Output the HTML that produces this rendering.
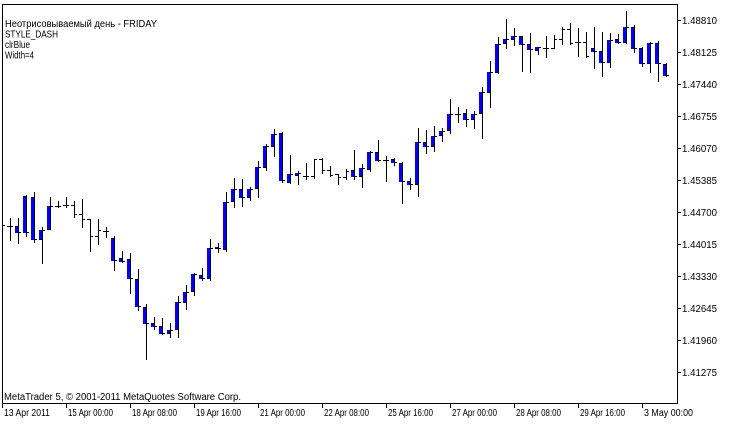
<!DOCTYPE html>
<html><head><meta charset="utf-8"><style>
html,body{margin:0;padding:0;background:#fff;}
svg{display:block;}
text{font-family:"Liberation Sans","DejaVu Sans",sans-serif;font-size:10px;fill:#000;}
</style></head><body>
<svg width="730" height="425" viewBox="0 0 730 425" xmlns="http://www.w3.org/2000/svg">
<rect x="0" y="0" width="730" height="425" fill="#fff"/>
<g shape-rendering="crispEdges">
<path fill="none" stroke="#0000ff" stroke-width="3" d="M0.5 210V226M16.5 226V233M24.5 196V233M32.5 197V240M40.5 230V240M48.5 206V230M104.5 231V232M112.5 238V261M120.5 258V262M128.5 259V279M136.5 279V307M144.5 307V324M152.5 323V327M160.5 326V334M168.5 330V334M176.5 302V330M184.5 292V303M192.5 274V292M200.5 275V279M208.5 248V279M216.5 247V249M224.5 202V250M232.5 189V202M240.5 189V198M248.5 189V198M256.5 167V189M264.5 146V168M272.5 134V147M280.5 133V181M288.5 174V183M296.5 173V176M352.5 170V177M360.5 168V177M368.5 152V170M376.5 152V161M392.5 159V163M400.5 163V182M408.5 181V185M416.5 142V185M424.5 142V147M432.5 136V147M440.5 131V136M448.5 114V131M464.5 113V120M472.5 114V120M480.5 92V114M488.5 72V93M496.5 44V73M504.5 39V44M512.5 36V40M520.5 36V45M528.5 44V50M536.5 47V51M592.5 48V52M600.5 51V63M608.5 40V63M616.5 39V43M624.5 27V43M632.5 27V49M640.5 48V64M648.5 43V64M656.5 43V64M664.5 64V76"/>
<path fill="none" stroke="#000" stroke-width="1" d="M2.5 210V227M-1 210.5h3M3 225.5h2
M10.5 218V241M7 226.5h3M11 226.5h2
M18.5 218V244M15 226.5h3M19 232.5h2
M26.5 195V237M23 196.5h3M27 232.5h2
M34.5 192V243M31 197.5h3M35 239.5h2
M42.5 227V264M39 239.5h3M43 230.5h2
M50.5 197V230M47 229.5h3M51 206.5h2
M58.5 201V208M55 206.5h3M59 206.5h2
M66.5 197V208M63 205.5h3M67 205.5h2
M74.5 201V218M71 205.5h3M75 214.5h2
M82.5 199V228M79 214.5h3M83 219.5h2
M90.5 219V252M87 219.5h3M91 236.5h2
M98.5 219V245M95 236.5h3M99 230.5h2
M106.5 227V238M103 231.5h3M107 231.5h2
M114.5 236V271M111 238.5h3M115 260.5h2
M122.5 251V263M119 258.5h3M123 261.5h2
M130.5 253V294M127 259.5h3M131 278.5h2
M138.5 269V311M135 279.5h3M139 306.5h2
M146.5 304V360M143 307.5h3M147 323.5h2
M154.5 317V330M151 323.5h3M155 326.5h2
M162.5 318V335M159 326.5h3M163 333.5h2
M170.5 323V338M167 333.5h3M171 330.5h2
M178.5 296V338M175 329.5h3M179 302.5h2
M186.5 285V310M183 302.5h3M187 292.5h2
M194.5 273V296M191 291.5h3M195 274.5h2
M202.5 268V281M199 275.5h3M203 278.5h2
M210.5 239V281M207 278.5h3M211 248.5h2
M218.5 243V253M215 248.5h3M219 248.5h2
M226.5 192V252M223 249.5h3M227 202.5h2
M234.5 178V208M231 201.5h3M235 189.5h2
M242.5 179V207M239 189.5h3M243 197.5h2
M250.5 187V201M247 197.5h3M251 189.5h2
M258.5 161V198M255 188.5h3M259 167.5h2
M266.5 144V171M263 167.5h3M267 146.5h2
M274.5 129V157M271 146.5h3M275 134.5h2
M282.5 132V183M279 133.5h3M283 180.5h2
M290.5 155V184M287 182.5h3M291 174.5h2
M298.5 171V185M295 175.5h3M299 173.5h2
M306.5 163V180M303 176.5h3M307 176.5h2
M314.5 159V179M311 176.5h3M315 159.5h2
M322.5 158V174M319 159.5h3M323 170.5h2
M330.5 166V177M327 170.5h3M331 175.5h2
M338.5 174V185M335 174.5h3M339 177.5h2
M346.5 169V180M343 177.5h3M347 171.5h2
M354.5 150V180M351 170.5h3M355 176.5h2
M362.5 164V188M359 176.5h3M363 168.5h2
M370.5 151V172M367 169.5h3M371 152.5h2
M378.5 140V162M375 152.5h3M379 160.5h2
M386.5 156V182M383 160.5h3M387 160.5h2
M394.5 158V166M391 159.5h3M395 162.5h2
M402.5 162V204M399 163.5h3M403 181.5h2
M410.5 178V190M407 181.5h3M411 184.5h2
M418.5 128V197M415 184.5h3M419 142.5h2
M426.5 130V154M423 142.5h3M427 146.5h2
M434.5 126V152M431 146.5h3M435 136.5h2
M442.5 128V142M439 135.5h3M443 131.5h2
M450.5 99V134M447 130.5h3M451 114.5h2
M458.5 107V123M455 114.5h3M459 114.5h2
M466.5 109V127M463 113.5h3M467 119.5h2
M474.5 111V129M471 119.5h3M475 114.5h2
M482.5 87V139M479 113.5h3M483 92.5h2
M490.5 61V108M487 92.5h3M491 72.5h2
M498.5 37V74M495 72.5h3M499 44.5h2
M506.5 19V49M503 43.5h3M507 39.5h2
M514.5 28V46M511 39.5h3M515 36.5h2
M522.5 36V72M519 36.5h3M523 44.5h2
M530.5 33V73M527 44.5h3M531 49.5h2
M538.5 47V55M535 50.5h3M539 47.5h2
M546.5 36V58M543 48.5h3M547 48.5h2
M554.5 35V49M551 48.5h3M555 39.5h2
M562.5 27V45M559 39.5h3M563 29.5h2
M570.5 23V45M567 29.5h3M571 43.5h2
M578.5 28V57M575 42.5h3M579 42.5h2
M586.5 32V58M583 42.5h3M587 56.5h2
M594.5 27V69M591 48.5h3M595 51.5h2
M602.5 32V77M599 51.5h3M603 62.5h2
M610.5 33V68M607 62.5h3M611 40.5h2
M618.5 34V44M615 39.5h3M619 42.5h2
M626.5 11V44M623 42.5h3M627 27.5h2
M634.5 25V53M631 27.5h3M635 48.5h2
M642.5 47V67M639 48.5h3M643 63.5h2
M650.5 42V73M647 63.5h3M651 43.5h2
M658.5 41V82M655 43.5h3M659 63.5h2
M666.5 63V77M663 64.5h3M667 75.5h2"/>
<rect x="0" y="0" width="2" height="404" fill="#fff"/>
<path fill="none" stroke="#000" stroke-width="1" d="M2.5 4V404M2 4.5H678M677.5 4V404M2 403.5H678"/>
<path fill="none" stroke="#000" stroke-width="1" d="M677 20.5h4M677 52.5h4M677 84.5h4M677 116.5h4M677 148.5h4M677 180.5h4M677 212.5h4M677 244.5h4M677 276.5h4M677 308.5h4M677 340.5h4M677 372.5h4"/>
<path fill="none" stroke="#000" stroke-width="1" d="M2.5 404v4M66.5 404v4M130.5 404v4M194.5 404v4M258.5 404v4M322.5 404v4M386.5 404v4M450.5 404v4M514.5 404v4M578.5 404v4M642.5 404v4"/>
</g>
<text x="5" y="27" textLength="152" lengthAdjust="spacingAndGlyphs">Неотрисовываемый день - FRIDAY</text>
<text x="5" y="37.5" textLength="53" lengthAdjust="spacingAndGlyphs">STYLE_DASH</text>
<text x="5" y="48" textLength="25" lengthAdjust="spacingAndGlyphs">clrBlue</text>
<text x="5" y="58.5" textLength="29" lengthAdjust="spacingAndGlyphs">Width=4</text>
<text x="4" y="400" textLength="237" lengthAdjust="spacingAndGlyphs">MetaTrader 5, © 2001-2011 MetaQuotes Software Corp.</text>
<text x="682" y="24" textLength="35" lengthAdjust="spacingAndGlyphs">1.48810</text>
<text x="682" y="56" textLength="35" lengthAdjust="spacingAndGlyphs">1.48125</text>
<text x="682" y="88" textLength="35" lengthAdjust="spacingAndGlyphs">1.47440</text>
<text x="682" y="120" textLength="35" lengthAdjust="spacingAndGlyphs">1.46755</text>
<text x="682" y="152" textLength="35" lengthAdjust="spacingAndGlyphs">1.46070</text>
<text x="682" y="184" textLength="35" lengthAdjust="spacingAndGlyphs">1.45385</text>
<text x="682" y="216" textLength="35" lengthAdjust="spacingAndGlyphs">1.44700</text>
<text x="682" y="248" textLength="35" lengthAdjust="spacingAndGlyphs">1.44015</text>
<text x="682" y="280" textLength="35" lengthAdjust="spacingAndGlyphs">1.43330</text>
<text x="682" y="312" textLength="35" lengthAdjust="spacingAndGlyphs">1.42645</text>
<text x="682" y="344" textLength="35" lengthAdjust="spacingAndGlyphs">1.41960</text>
<text x="682" y="376" textLength="35" lengthAdjust="spacingAndGlyphs">1.41275</text>
<text x="4" y="416" textLength="46" lengthAdjust="spacingAndGlyphs">13 Apr 2011</text>
<text x="68" y="416" textLength="45" lengthAdjust="spacingAndGlyphs">15 Apr 00:00</text>
<text x="132" y="416" textLength="45" lengthAdjust="spacingAndGlyphs">18 Apr 08:00</text>
<text x="196" y="416" textLength="45" lengthAdjust="spacingAndGlyphs">19 Apr 16:00</text>
<text x="260" y="416" textLength="45" lengthAdjust="spacingAndGlyphs">21 Apr 00:00</text>
<text x="324" y="416" textLength="45" lengthAdjust="spacingAndGlyphs">22 Apr 08:00</text>
<text x="388" y="416" textLength="45" lengthAdjust="spacingAndGlyphs">25 Apr 16:00</text>
<text x="452" y="416" textLength="45" lengthAdjust="spacingAndGlyphs">27 Apr 00:00</text>
<text x="516" y="416" textLength="45" lengthAdjust="spacingAndGlyphs">28 Apr 08:00</text>
<text x="580" y="416" textLength="45" lengthAdjust="spacingAndGlyphs">29 Apr 16:00</text>
<text x="644" y="416" textLength="49" lengthAdjust="spacingAndGlyphs">3 May 00:00</text>
</svg>
</body></html>
